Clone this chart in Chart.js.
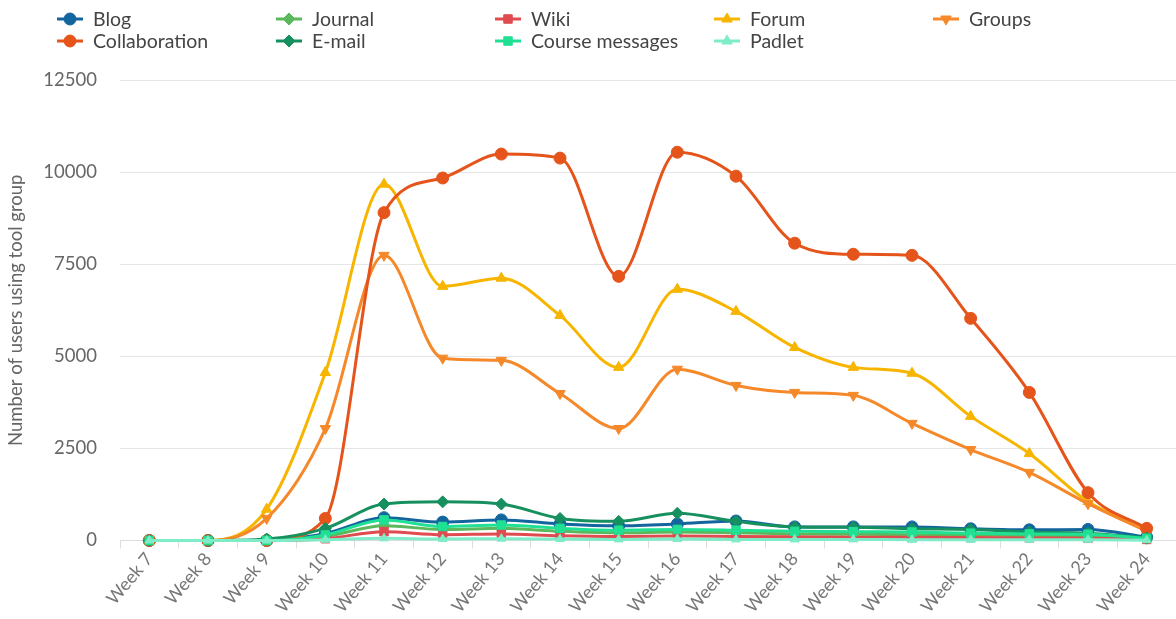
<!DOCTYPE html>
<html>
<head>
<meta charset="utf-8">
<script src="https://cdn.jsdelivr.net/npm/chart.js@4/dist/chart.umd.min.js"></script>
<style>
  html, body { margin: 0; padding: 0; background: #ffffff; }
  #wrap { width: 1176px; height: 619px; position: relative; }
</style>
</head>
<body>
<div id="wrap"><canvas id="c" width="1176" height="619"></canvas></div>
<script>
const weeks = ["Week 7","Week 8","Week 9","Week 10","Week 11","Week 12","Week 13","Week 14","Week 15","Week 16","Week 17","Week 18","Week 19","Week 20","Week 21","Week 22","Week 23","Week 24"];
const yTicks = [0, 2500, 5000, 7500, 10000, 12500];

const blog          = [0, 0, 0, 190, 620, 500, 560, 450, 400, 450, 530, 370, 370, 370, 320, 290, 300, 90];
const journal       = [0, 0, 0, 110, 400, 300, 330, 250, 210, 230, 210, 180, 170, 160, 150, 130, 120, 60];
const wiki          = [0, 0, 0, 50, 240, 160, 180, 130, 110, 120, 110, 100, 90, 90, 80, 70, 60, 30];
const forum         = [0, 0, 850, 4560, 9670, 6900, 7120, 6110, 4700, 6820, 6220, 5240, 4700, 4540, 3370, 2360, 1060, 300];
const groups        = [0, 0, 600, 3040, 7740, 4950, 4890, 3990, 3040, 4650, 4210, 4020, 3940, 3180, 2470, 1850, 1000, 250];
const collaboration = [0, 0, 0, 600, 8900, 9840, 10490, 10380, 7170, 10540, 9890, 8070, 7770, 7740, 6030, 4020, 1300, 330];
const email         = [0, 0, 40, 330, 990, 1050, 990, 600, 520, 740, 520, 370, 360, 320, 300, 230, 200, 70];
const courseMsgs    = [0, 0, 0, 150, 560, 380, 420, 330, 280, 300, 280, 250, 240, 230, 200, 180, 170, 60];
const padlet        = [0, 0, 0, 20, 60, 40, 50, 40, 30, 40, 30, 30, 30, 20, 20, 20, 20, 10];

const seriesNames = ["Blog","Journal","Wiki","Forum","Groups","Collaboration","E-mail","Course messages","Padlet"];
const seriesData = [blog, journal, wiki, forum, groups, collaboration, email, courseMsgs, padlet];
const seriesColors = ["#13659e","#5cb85c","#e04b4f","#f7b500","#f5892a","#e5541a","#17905f","#1fe093","#7fecc8"];
const seriesStyles = ["circle","rectRot","rect","triangle","triangle","circle","rectRot","rect","triangle"];
const seriesRot = [0,0,0,0,180,0,0,0,0];
const seriesRadius = [6,6,6,6,6,6,6,6,5];

const FONT = "Lato, 'Open Sans', sans-serif";

const datasets = seriesNames.map((n, i) => ({
  label: n,
  data: seriesData[i],
  borderColor: seriesColors[i],
  backgroundColor: seriesColors[i],
  pointBackgroundColor: seriesColors[i],
  pointBorderColor: seriesColors[i],
  pointStyle: seriesStyles[i],
  rotation: seriesRot[i],
  pointRadius: seriesRadius[i],
  pointBorderWidth: 1,
  borderWidth: 3,
  cubicInterpolationMode: 'monotone',
  fill: false,
  clip: false,
  order: seriesNames.length - 1 - i
}));

const gridLegend = {
  id: 'gridLegend',
  afterDraw(chart) {
    const ctx = chart.ctx;
    ctx.save();
    ctx.font = "19.5px " + FONT;
    ctx.textBaseline = 'middle';
    ctx.textAlign = 'left';
    chart.data.datasets.forEach((ds, i) => {
      const col = i % 5, row = Math.floor(i / 5);
      const cx = 70 + col * 219;
      const cy = 19 + row * 22;
      ctx.strokeStyle = ds.borderColor;
      ctx.lineWidth = 3;
      ctx.beginPath();
      ctx.moveTo(cx - 13, cy);
      ctx.lineTo(cx + 13, cy);
      ctx.stroke();
      ctx.fillStyle = ds.pointBackgroundColor;
      ctx.strokeStyle = ds.pointBorderColor;
      ctx.lineWidth = 1;
      Chart.helpers.drawPoint(ctx, {
        pointStyle: ds.pointStyle,
        rotation: ds.rotation,
        radius: 6,
        borderWidth: 1
      }, cx, cy);
      ctx.fillStyle = '#444';
      ctx.fillText(ds.label, cx + 23, cy + 1);
    });
    ctx.restore();
  }
};

new Chart(document.getElementById('c'), {
  type: 'line',
  data: { labels: weeks, datasets: datasets },
  plugins: [gridLegend],
  options: {
    responsive: false,
    animation: false,
    layout: { autoPadding: false, padding: { top: 80, right: 0, left: 0, bottom: 2 } },
    plugins: {
      legend: { display: false },
      tooltip: { enabled: false }
    },
    scales: {
      x: {
        offset: true,
        afterFit(scale) { scale.paddingRight = 0; scale.paddingLeft = 0; },
        grid: { display: true, drawOnChartArea: false, drawTicks: true, tickLength: 8, color: '#dddddd', offset: true },
        border: { display: true, color: '#dddddd' },
        ticks: {
          color: '#777777',
          font: { family: FONT, size: 18 },
          minRotation: 50,
          maxRotation: 50,
          autoSkip: false,
          padding: 0
        }
      },
      y: {
        min: 0,
        max: 12500,
        afterBuildTicks(scale) { scale.ticks = yTicks.map(v => ({ value: v })); },
        afterFit(scale) { scale.width = 120; },
        grid: { color: '#e6e6e6', drawTicks: false },
        border: { display: false },
        ticks: {
          color: '#666666',
          font: { family: FONT, size: 18.5 },
          padding: 23,
          callback: (v) => String(v)
        },
        title: {
          display: true,
          text: 'Number of users using tool group',
          color: '#666666',
          font: { family: FONT, size: 18.5 },
          padding: { top: 5, bottom: 0 }
        }
      }
    }
  }
});
</script>
</body>
</html>
